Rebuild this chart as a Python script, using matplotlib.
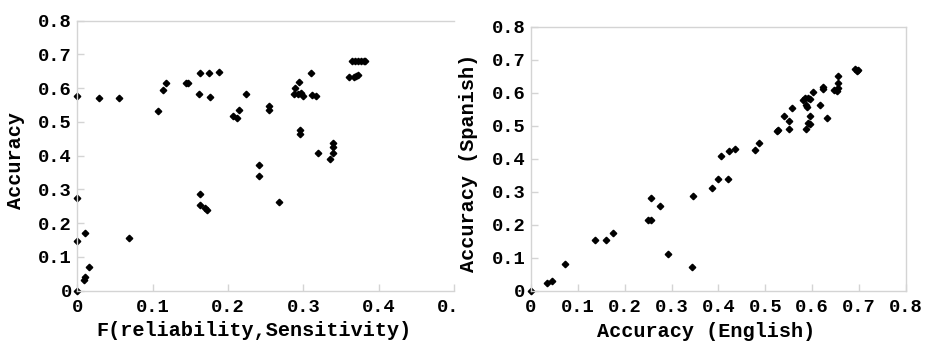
import matplotlib
matplotlib.use("Agg")
import matplotlib.pyplot as plt
from matplotlib.transforms import Bbox, TransformedBbox

# Left panel: F(reliability, Sensitivity) vs Accuracy
f_rel = [0.0, 0.0, 0.0, 0.0, 0.010, 0.0155, 0.0102, 0.0095, 0.029, 0.0556, 0.0685,
         0.1077, 0.1135, 0.1174, 0.144, 0.1475, 0.1616, 0.163, 0.175, 0.1757, 0.1885,
         0.1625, 0.1625, 0.1696, 0.172,
         0.2066, 0.212, 0.215, 0.2243, 0.2415, 0.2415, 0.2543, 0.2547, 0.2675,
         0.2883, 0.294, 0.288, 0.293, 0.297, 0.300, 0.295, 0.295,
         0.310, 0.311, 0.317, 0.320, 0.336, 0.340, 0.340, 0.340,
         0.361, 0.367, 0.370, 0.3726,
         0.3647, 0.368, 0.372, 0.3766, 0.380, 0.3823]
acc_left = [0.577, 0.274, 0.147, 0.0, 0.172, 0.071, 0.040, 0.031, 0.571, 0.572, 0.157,
            0.533, 0.595, 0.615, 0.615, 0.615, 0.582, 0.645, 0.646, 0.574, 0.648,
            0.287, 0.254, 0.244, 0.240,
            0.5165, 0.5126, 0.536, 0.583, 0.373, 0.341, 0.547, 0.535, 0.262,
            0.600, 0.618, 0.583, 0.583, 0.587, 0.577, 0.476, 0.463,
            0.644, 0.580, 0.578, 0.408, 0.389, 0.4385, 0.4257, 0.408,
            0.633, 0.634, 0.635, 0.638,
            0.681, 0.681, 0.681, 0.682, 0.682, 0.682]

# Right panel: Accuracy (English) vs Accuracy (Spanish)
acc_en = [0.0, 0.035, 0.044, 0.0725, 0.137, 0.161, 0.175, 0.250, 0.255, 0.255,
          0.2745, 0.293, 0.343, 0.346, 0.387, 0.398, 0.406, 0.4196, 0.4217, 0.435,
          0.478, 0.486, 0.5256, 0.528, 0.539, 0.550, 0.5505, 0.5576,
          0.580, 0.585, 0.590, 0.595, 0.586, 0.588, 0.5875, 0.591, 0.595, 0.595,
          0.602, 0.6166, 0.622, 0.622, 0.632, 0.6465, 0.652, 0.655, 0.655, 0.656,
          0.692, 0.695, 0.697]
acc_es = [0.0, 0.023, 0.030, 0.081, 0.155, 0.155, 0.175, 0.213, 0.215, 0.282,
          0.2566, 0.112, 0.0707, 0.288, 0.310, 0.339, 0.407, 0.340, 0.423, 0.429,
          0.426, 0.448, 0.485, 0.487, 0.530, 0.491, 0.515, 0.5545,
          0.578, 0.583, 0.585, 0.582, 0.563, 0.557, 0.491, 0.509, 0.506, 0.530,
          0.601, 0.5616, 0.617, 0.612, 0.523, 0.608, 0.606, 0.614, 0.628, 0.650,
          0.6707, 0.6657, 0.6687]

ticks = [0, 0.1, 0.2, 0.3, 0.4, 0.5, 0.6, 0.7, 0.8]
tick_labels = ["0", "0.1", "0.2", "0.3", "0.4", "0.5", "0.6", "0.7", "0.8"]
left_xticks = [0, 0.1, 0.2, 0.3, 0.4, 0.5]
left_xlabels = ["0", "0.1", "0.2", "0.3", "0.4", "0.5"]

FONT = "Liberation Mono"
TICK_FS = 13.5
LABEL_FS = 14.5
SPINE = "#d4d4d4"
MS = 3.3

fig = plt.figure(figsize=(9.28, 3.41), dpi=100)

def style(ax):
    for s in ax.spines.values():
        s.set_color(SPINE)
        s.set_linewidth(1.0)
    ax.tick_params(direction="in", length=5, width=1.0, color=SPINE,
                   labelsize=TICK_FS, pad=4)
    for lab in ax.get_xticklabels() + ax.get_yticklabels():
        lab.set_fontfamily(FONT)
        lab.set_fontweight("bold")

# Left axes
ax1 = fig.add_axes([77.3 / 928, 1 - 290.7 / 341, (454 - 77.3) / 928, (290.7 - 20.7) / 341])
ax1.plot(f_rel, acc_left, linestyle="none", marker="D", ms=MS, color="black",
         clip_on=False)
ax1.set_xlim(0, 0.5)
ax1.set_ylim(0, 0.8)
ax1.set_xticks(left_xticks)
ax1.set_xticklabels(left_xlabels)
ax1.set_yticks(ticks)
ax1.set_yticklabels(tick_labels)
ax1.spines["right"].set_visible(False)
style(ax1)
ax1.tick_params(axis="x", pad=6)
ax1.set_xlabel("F(reliability,Sensitivity)", fontfamily=FONT, fontsize=LABEL_FS,
               fontweight="bold")
ax1.set_ylabel("Accuracy", fontfamily=FONT, fontsize=LABEL_FS, fontweight="bold")
ax1.xaxis.set_label_coords(0.469, -0.112)
ax1.yaxis.set_label_coords(-0.139, 0.484)

# Right axes
ax2 = fig.add_axes([531 / 928, 1 - 290.7 / 341, (906 - 531) / 928, (290.7 - 26.7) / 341])
ax2.plot(acc_en, acc_es, linestyle="none", marker="D", ms=MS, color="black",
         clip_on=False)
ax2.set_xlim(0, 0.8)
ax2.set_ylim(0, 0.8)
ax2.set_xticks(ticks)
ax2.set_xticklabels(tick_labels)
ax2.set_yticks(ticks)
ax2.set_yticklabels(tick_labels)
style(ax2)
ax2.tick_params(axis="x", pad=6)
ax2.set_xlabel("Accuracy (English)", fontfamily=FONT, fontsize=LABEL_FS,
               fontweight="bold")
ax2.set_ylabel("Accuracy (Spanish)", fontfamily=FONT, fontsize=LABEL_FS,
               fontweight="bold")
ax2.xaxis.set_label_coords(0.468, -0.118)
ax2.yaxis.set_label_coords(-0.1405, 0.484)

# clip left panel's last x tick label like the original image
clip = TransformedBbox(Bbox([[0, 0], [456 / 928, 1]]), fig.transFigure)
for lab in ax1.get_xticklabels():
    lab.set_clip_box(clip)
    lab.set_clip_on(True)

fig.savefig("out.png", dpi=100)
